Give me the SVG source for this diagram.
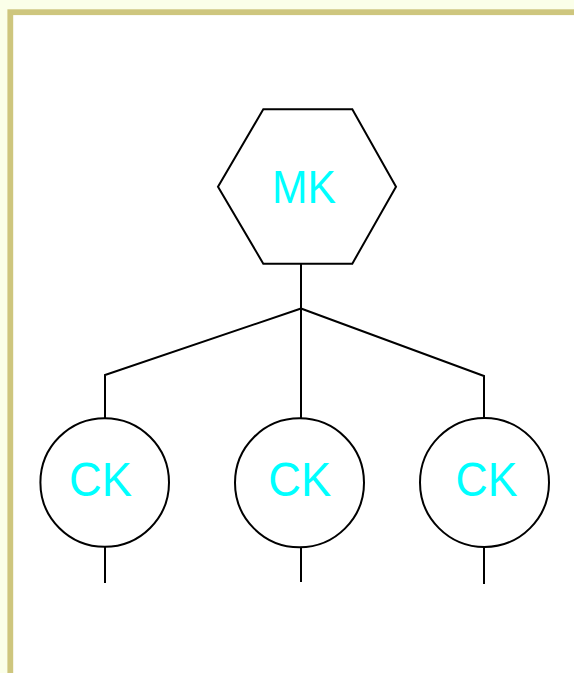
<svg xmlns="http://www.w3.org/2000/svg" width="574" height="673" viewBox="0 0 574 673">
<style>
.shape{fill:#FFFFFF;stroke:#000000;stroke-width:2}
.wire{fill:none;stroke:#000000;stroke-width:2}
.lbl{font-family:"Liberation Sans",Arial,sans-serif;fill:#00FFFF;text-anchor:middle}
</style>
<rect x="0" y="0" width="574" height="673" fill="#FBFFE9"/>
<rect x="10.3" y="12.2" width="600" height="700" fill="#FFFFFF" stroke="#CEC67E" stroke-width="5.8"/>
<g id="connectors">
<path class="wire" d="M301,264 V308.5"/>
<path class="wire" d="M301,308.5 L105,375 V418.5"/>
<path class="wire" d="M301,308.5 V418.5"/>
<path class="wire" d="M301,308.5 L484,376 V418.5"/>
<path class="wire" d="M105,546.8 V583"/>
<path class="wire" d="M301,547.3 V582"/>
<path class="wire" d="M484,547 V584"/>
</g>
<g id="MK">
<polygon class="shape" points="263.3,109.3 352.3,109.3 396,186.7 352.3,263.7 263.3,263.7 218,186.7"/>
<text class="lbl" x="304" y="203" font-size="46" textLength="64" lengthAdjust="spacingAndGlyphs">MK</text>
</g>
<g id="CK1">
<circle class="shape" cx="104.7" cy="482.5" r="64.3"/>
<text class="lbl" x="100.5" y="495.5" font-size="48" textLength="63" lengthAdjust="spacingAndGlyphs">CK</text>
</g>
<g id="CK2">
<circle class="shape" cx="299.5" cy="482.8" r="64.5"/>
<text class="lbl" x="299.7" y="495.8" font-size="48" textLength="63" lengthAdjust="spacingAndGlyphs">CK</text>
</g>
<g id="CK3">
<circle class="shape" cx="484.5" cy="482.5" r="64.5"/>
<text class="lbl" x="486.5" y="495.5" font-size="48" textLength="62" lengthAdjust="spacingAndGlyphs">CK</text>
</g>
</svg>
